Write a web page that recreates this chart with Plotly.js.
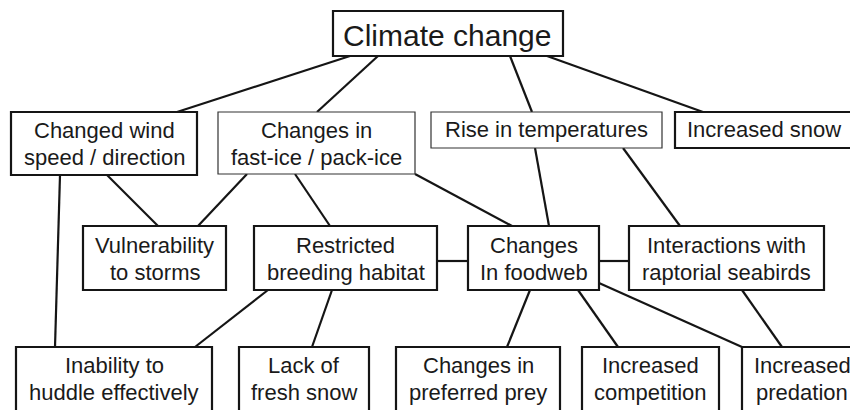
<!DOCTYPE html>
<html>
<head>
<meta charset="utf-8">
<script src="https://cdn.plot.ly/plotly-3.0.1.min.js"></script>
<style>html,body{margin:0;padding:0;background:#fff;}#chart{width:850px;height:410px;}</style>
</head>
<body>
<div id="chart"></div>
<script>
// ---- Diagram content (data) ----
const nodeLabels = [
  "Climate change",
  "Changed wind<br>speed / direction",
  "Changes in<br>fast-ice / pack-ice",
  "Rise in temperatures",
  "Increased snow",
  "Vulnerability<br>to storms",
  "Restricted<br>breeding habitat",
  "Changes<br>In foodweb",
  "Interactions with<br>raptorial seabirds",
  "Inability to<br>huddle effectively",
  "Lack of<br>fresh snow",
  "Changes in<br>preferred prey",
  "Increased<br>competition",
  "Increased<br>predation"
];
const edgeFrom = [0, 0, 0, 0, 1, 1, 2, 2, 2, 3, 3, 6, 6, 6, 7, 7, 7, 7, 8];
const edgeTo   = [1, 2, 3, 4, 5, 9, 5, 6, 7, 7, 8, 9, 10, 7, 11, 12, 13, 8, 13];

// ---- Layout (positions / styles) ----
// box: [x0, x1, y0, y1], border width, text anchor x, font size
const boxes = [
  [333, 563, 11, 56, 2.2, 447, 30],
  [11, 197, 112, 175, 2.2, 104, 22],
  [218, 415, 112, 174, 1.2, 316.5, 22],
  [431, 662, 112, 148, 1.2, 546.5, 22],
  [675, 856, 112, 148, 2.2, 764, 22],
  [83, 226, 226, 290, 2.2, 154.5, 22],
  [254, 437, 226, 290, 2.2, 345.5, 22],
  [468, 599, 226, 290, 2.2, 533.5, 22],
  [629, 824, 226, 290, 2.2, 726.5, 22],
  [16, 212, 347, 430, 2.2, 114, 22],
  [239, 369, 347, 430, 2.2, 304, 22],
  [396, 560, 347, 430, 2.2, 478, 22],
  [582, 719, 347, 430, 2.2, 650.5, 22],
  [742, 868, 347, 430, 2.2, 802, 22]
];
// first text-line centre y for each box
const lineY = [35, 130, 130, 129, 129, 245, 245, 245, 245, 365, 365, 365, 365, 365];
const lineGap = 27;
// edge endpoints [x0, y0, x1, y1]
const edgeAnchors = [
  [350, 56, 177, 112],
  [378, 56, 317, 112],
  [510, 56, 532, 112],
  [547, 56, 703, 112],
  [107, 175, 158, 226],
  [60, 175, 55, 347],
  [247, 174, 198, 226],
  [295, 174, 330, 226],
  [415, 174, 512, 226],
  [535, 148, 549, 226],
  [623, 148, 680, 226],
  [268, 290, 195, 347],
  [332, 290, 312, 347],
  [437, 261, 468, 261],
  [530, 290, 507, 347],
  [578, 290, 618, 347],
  [599, 283, 742, 347],
  [599, 261, 629, 261],
  [742, 290, 782, 347]
];

const ink = '#151515';
const shapes = [];
const annotations = [];

edgeFrom.forEach((f, i) => {
  const a = edgeAnchors[i];
  shapes.push({type: 'line', xref: 'x', yref: 'y', x0: a[0], y0: a[1], x1: a[2], y1: a[3],
    line: {color: ink, width: 2.2}, layer: 'above'});
});

nodeLabels.forEach((label, i) => {
  const b = boxes[i];
  shapes.push({type: 'rect', xref: 'x', yref: 'y', x0: b[0], x1: b[1], y0: b[2], y1: b[3],
    fillcolor: '#ffffff', line: {color: b[4] < 2 ? '#333' : ink, width: b[4]}, layer: 'above'});
  label.split('<br>').forEach((ln, k) => {
    annotations.push({xref: 'x', yref: 'y', x: b[5], y: lineY[i] + k * lineGap, text: ln,
      showarrow: false, xanchor: 'center', yanchor: 'middle',
      font: {family: 'Arial, "Liberation Sans", sans-serif', size: b[6], color: '#1a1a1a'}});
  });
});

const layout = {
  width: 850, height: 410,
  margin: {l: 0, r: 0, t: 0, b: 0},
  paper_bgcolor: '#ffffff', plot_bgcolor: '#ffffff',
  xaxis: {range: [0, 850], visible: false, fixedrange: true},
  yaxis: {range: [410, 0], visible: false, fixedrange: true},
  shapes: shapes,
  annotations: annotations,
  showlegend: false
};

Plotly.newPlot('chart', [{x: [], y: [], type: 'scatter', hoverinfo: 'skip'}], layout,
  {displayModeBar: false, staticPlot: true});
</script>
</body>
</html>
